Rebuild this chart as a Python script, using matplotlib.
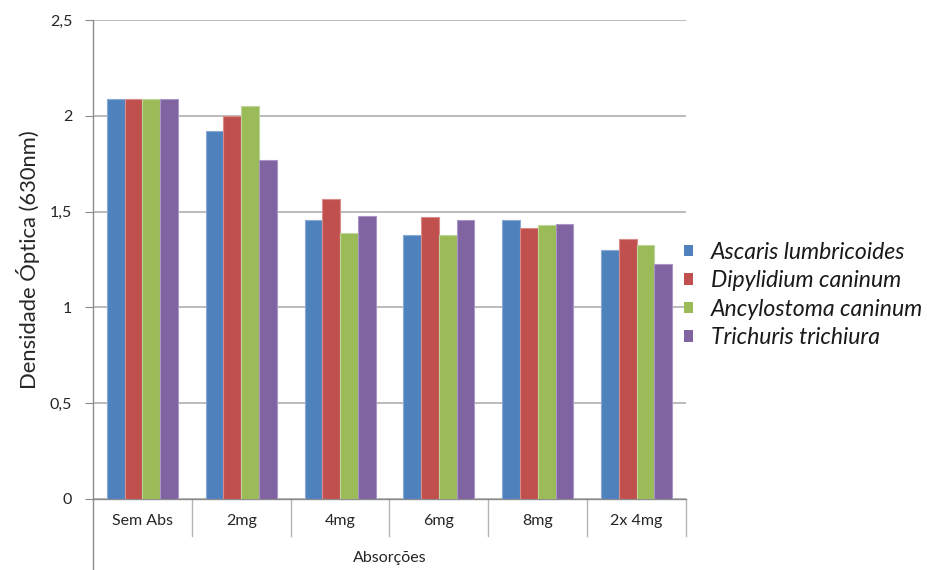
import matplotlib
matplotlib.use("Agg")
import matplotlib.pyplot as plt
import matplotlib.transforms as mtransforms
from matplotlib.patches import Patch
import numpy as np

categories = ["Sem Abs", "2mg", "4mg", "6mg", "8mg", "2x 4mg"]
series_names = ["Ascaris lumbricoides", "Dipylidium caninum",
                "Ancylostoma caninum", "Trichuris trichiura"]
ascaris = [2.09, 1.92, 1.455, 1.38, 1.455, 1.30]
dipylidium = [2.09, 2.00, 1.565, 1.473, 1.414, 1.355]
ancylostoma = [2.09, 2.05, 1.39, 1.376, 1.43, 1.326]
trichuris = [2.09, 1.77, 1.479, 1.455, 1.435, 1.225]
y_ticks = [0, 0.5, 1, 1.5, 2, 2.5]
y_tick_labels = ["0", "0,5", "1", "1,5", "2", "2,5"]

colors = ["#4F81BD", "#C0504D", "#9BBB59", "#8064A2"]
edge_colors = ["#8AA9D6", "#D98C8A", "#BED59A", "#A996C4"]
series = [ascaris, dipylidium, ancylostoma, trichuris]

plt.rcParams["font.family"] = ["Lato", "DejaVu Sans"]

W, H = 928, 570
fig = plt.figure(figsize=(W / 100, H / 100), dpi=100)
left, right, top, bottom = 93, 686, 20, 499
ax = fig.add_axes([left / W, 1 - bottom / H, (right - left) / W, (bottom - top) / H])

x = np.arange(len(categories))
bw = 0.18
for i, (vals, c, ec) in enumerate(zip(series, colors, edge_colors)):
    ax.bar(x + (i - 1.5) * bw, vals, width=bw, color=c, edgecolor=ec,
           linewidth=0.8, zorder=3)

ax.set_xlim(-0.5, len(categories) - 0.5)
ax.set_ylim(0, 2.5)
ax.set_yticks(y_ticks)
ax.set_yticklabels(y_tick_labels, fontsize=11.5, color="#262626")
ax.yaxis.grid(True, color="#b5b5b5", linewidth=1.3, zorder=0)
ax.set_axisbelow(True)

grey = "#8c8c8c"
for s in ["top", "right"]:
    ax.spines[s].set_visible(False)
ax.spines["left"].set_color(grey)
ax.spines["bottom"].set_color(grey)
ax.spines["left"].set_linewidth(1.0)
ax.spines["bottom"].set_linewidth(1.0)
ax.tick_params(axis="y", length=6, color=grey, pad=9)

ax.set_xticks(x)
ax.set_xticklabels(categories, fontsize=11.5, color="#262626")
ax.tick_params(axis="x", length=0, pad=11)

# category dividers below the axis
trans = mtransforms.blended_transform_factory(ax.transData, ax.transAxes)
px = 1 / (bottom - top)
for b in np.arange(len(categories) + 1) - 0.5:
    y_end = -(570 - bottom) * px if b == -0.5 else -(536 - bottom) * px
    ax.plot([b, b], [0, y_end], transform=trans, color="#b5b5b5" if b != -0.5 else grey,
            linewidth=1.0, clip_on=False)

ax.text(0.5, -(558 - bottom) * px, "Absorções", transform=ax.transAxes,
        ha="center", va="center", fontsize=11.5, color="#262626")

ax.set_ylabel("Densidade Óptica (630nm)", fontsize=15.8, color="#262626",
              va="center")
ax.yaxis.set_label_coords(-(93 - 28) / (right - left), 0.5)

handles = [Patch(facecolor=c, edgecolor="none") for c in colors]
leg = fig.legend(handles, series_names, loc="center left",
                 bbox_to_anchor=(684 / W, 1 - 295 / H), frameon=False,
                 borderpad=0, borderaxespad=0,
                 handlelength=0.4, handleheight=0.4, handletextpad=0.75,
                 labelspacing=0.33, prop={"size": 16.6, "style": "italic"})
for t in leg.get_texts():
    t.set_color("#1a1a1a")

fig.savefig("out.png", dpi=100)
